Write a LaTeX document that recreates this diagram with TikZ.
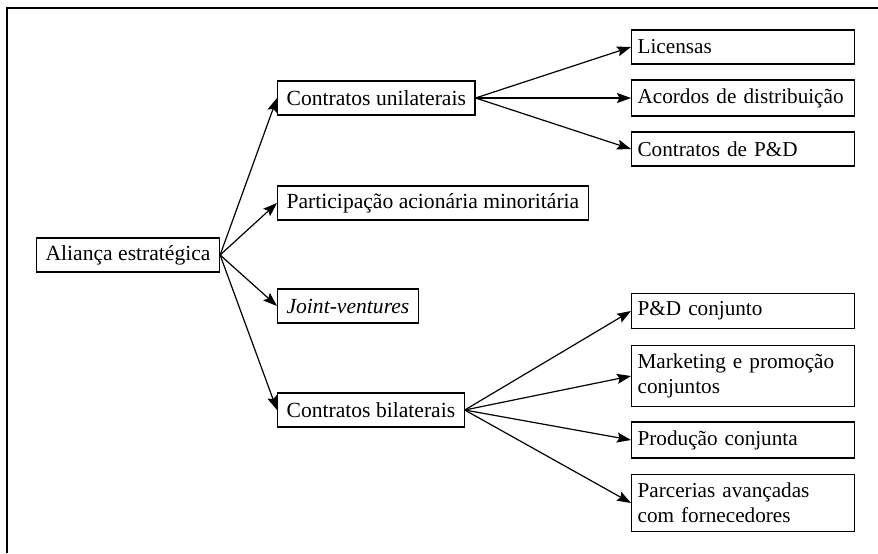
\documentclass[tikz,border=0pt]{standalone}
\usepackage{fontspec}
\setmainfont{Liberation Serif}
\usepackage{tikz}
\usetikzlibrary{
    arrows.meta,
    positioning
}

\begin{document}
\begin{tikzpicture}[
  x=0.5pt, y=-0.5pt,
  blk/.style={draw, line width=0.6pt, minimum height=17pt,
              inner xsep=4.5pt, font=\fontsize{10.8}{12.5}\selectfont,
              anchor=west},
  leaf/.style={blk, inner xsep=3pt, text width=105.5pt, align=left,
               inner ysep=4.2pt, font=\fontsize{10.6}{12.5}\selectfont},
  arr/.style={-{Stealth[length=7pt, width=5pt, inset=1.2pt]}, line width=0.6pt}
]
\useasboundingbox (0,0) rectangle (878,553);

% frame
\draw[line width=0.7pt] (7,553) -- (7,8) -- (878,8);

\node[blk] (root) at (36,255)  {Aliança estratégica};
\node[blk] (uni)  at (277,98)  {Contratos unilaterais};
\node[blk] (part) at (277,203) {Participação acionária minoritária};
\node[blk] (jv)   at (277,306) {\textit{Joint-ventures}};
\node[blk] (bil)  at (277,410) {Contratos bilaterais};

\node[leaf] (lic)  at (631,47)  {Licensas};
\node[leaf] (dist) at (631,98)  {\mbox{Acordos de distribuição}};
\node[leaf] (ped)  at (631,149) {Contratos de P\&D};

\node[leaf] (pdc)  at (631,311) {P\&D conjunto};
\node[leaf] (mkt)  at (631,376) {Marketing e promoção\\conjuntos};
\node[leaf] (prod) at (631,440) {Produção conjunta};
\node[leaf] (parc) at (631,503) {Parcerias avançadas\\com fornecedores};

\draw[arr] (root.east) -- (uni.west);
\draw[arr] (root.east) -- (part.west);
\draw[arr] (root.east) -- (jv.west);
\draw[arr] (root.east) -- (bil.west);

\draw[arr] (uni.east) -- (lic.west);
\draw[arr] (uni.east) -- (dist.west);
\draw[arr] (uni.east) -- (ped.west);

\draw[arr] (bil.east) -- (pdc.west);
\draw[arr] (bil.east) -- (mkt.west);
\draw[arr] (bil.east) -- (prod.west);
\draw[arr] (bil.east) -- (parc.west);

\end{tikzpicture}
\end{document}
